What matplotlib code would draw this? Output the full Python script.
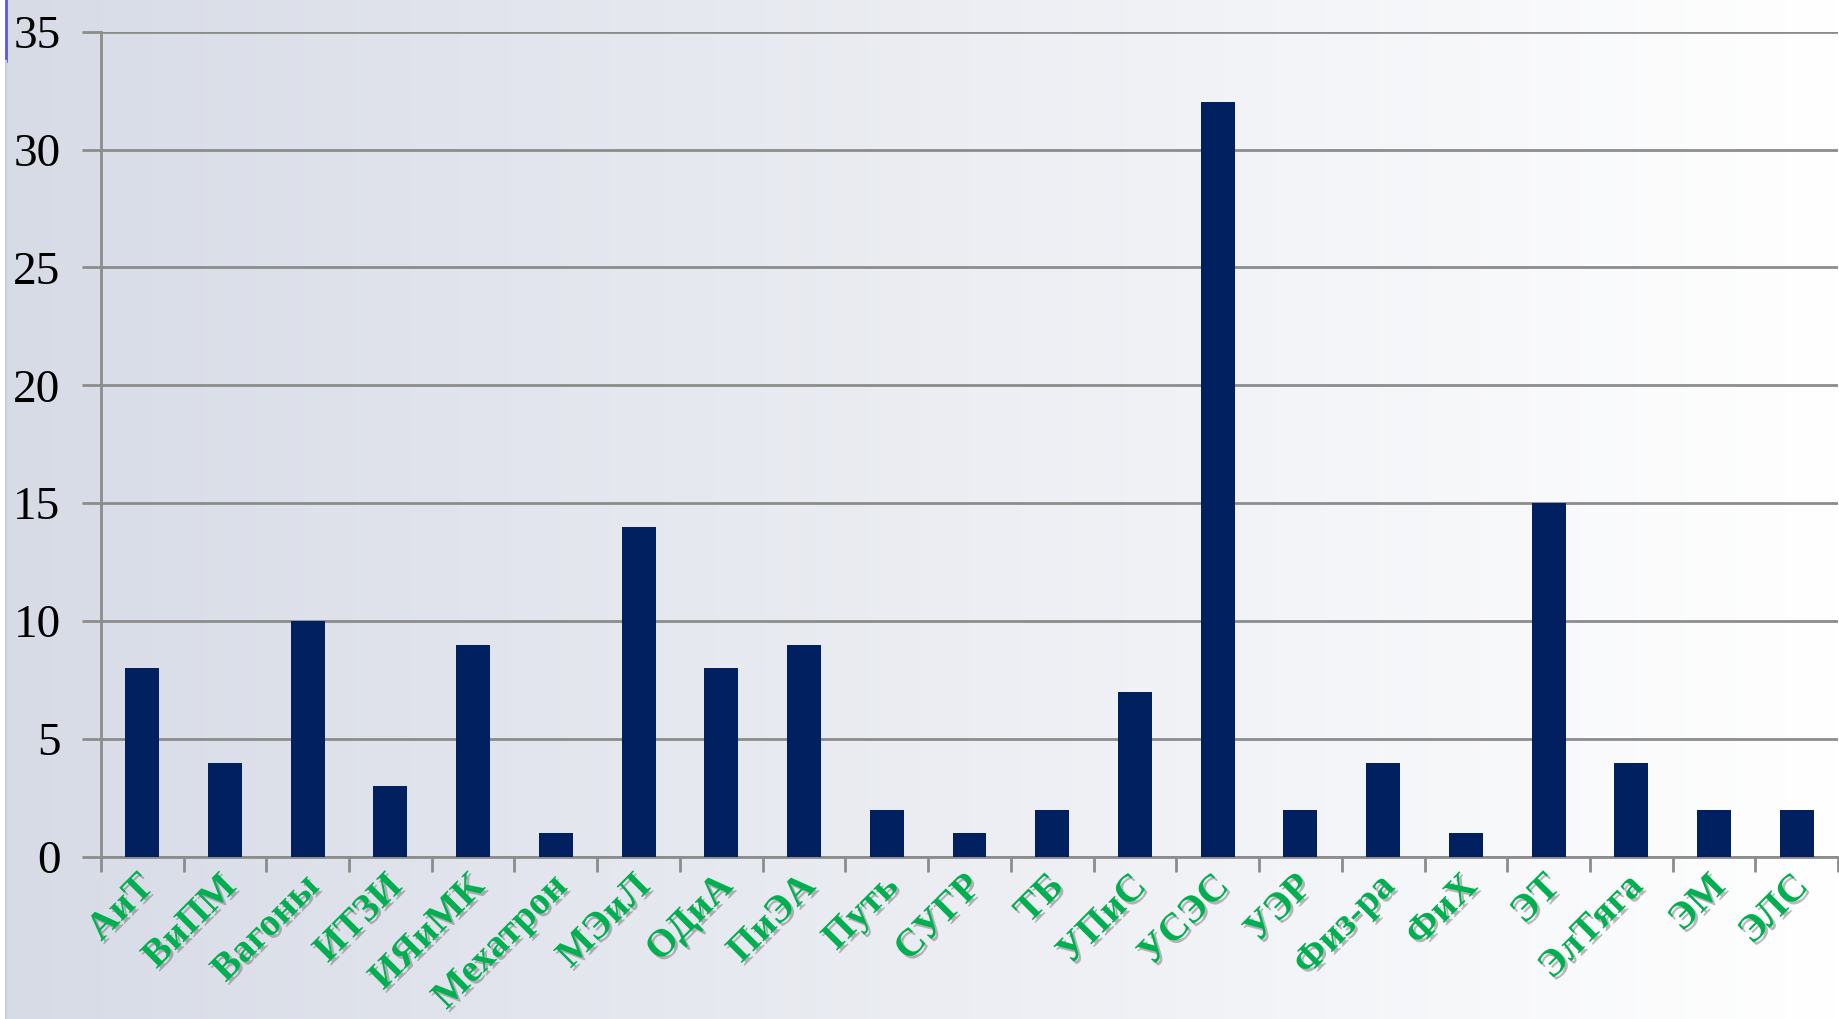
import numpy as np
import matplotlib
matplotlib.use("Agg")
import matplotlib.pyplot as plt
import matplotlib.patheffects as pe
from matplotlib.ticker import FixedLocator

categories = ["АиТ", "ВиПМ", "Вагоны", "ИТЗИ", "ИЯиМК", "Мехатрон", "МЭиЛ",
              "ОДиА", "ПиЭА", "Путь", "СУГР", "ТБ", "УПиС", "УСЭС", "УЭР",
              "Физ-ра", "ФиХ", "ЭТ", "ЭлТяга", "ЭМ", "ЭЛС"]
values = [8, 4, 10, 3, 9, 1, 14, 8, 9, 2, 1, 2, 7, 32, 2, 4, 1, 15, 4, 2, 2]
y_ticks = [0, 5, 10, 15, 20, 25, 30, 35]

fig = plt.figure(figsize=(18.4, 10.19), dpi=100)

# background gradient, grey-blue on the left to white on the right
bg = fig.add_axes([0, 0, 1, 1], zorder=-10)
grad = np.linspace(0, 1, 512)[None, :]
c0 = np.array([0.843, 0.859, 0.902])
c1 = np.array([1.0, 1.0, 1.0])
img = c0[None, None, :] * (1 - grad[..., None]) + c1[None, None, :] * grad[..., None]
bg.imshow(img, aspect="auto", extent=[0, 1, 0, 1])
bg.axvspan(0, 0.0025, color="white")
bg.plot([0.003, 0.003], [0.94, 1.0], color="#5a5ad8", lw=2)
bg.plot([0.003, 0.003], [0.0, 0.94], color="#c9ccdb", lw=1.5)
bg.set_xlim(0, 1)
bg.set_ylim(0, 1)
bg.axis("off")

ax = fig.add_axes([0.0548, 0.159, 0.9442, 0.810])
ax.patch.set_alpha(0)
x = np.arange(len(categories))
ax.bar(x, values, width=0.41, color="#002060", zorder=3)

ax.set_xlim(-0.5, len(categories) - 0.5)
ax.set_ylim(0, 35)
ax.set_yticks(y_ticks)
ax.yaxis.grid(True, color="#8c8c8c", lw=2)
ax.set_axisbelow(True)

for s in ["top", "right"]:
    ax.spines[s].set_visible(False)
for s in ["left", "bottom"]:
    ax.spines[s].set_color("#8c8c8c")
    ax.spines[s].set_linewidth(2)

ax.tick_params(axis="y", length=14, width=2, color="#8c8c8c", pad=15)
for lab in ax.get_yticklabels():
    lab.set_fontfamily("Liberation Serif")
    lab.set_fontsize(34)
    lab.set_color("black")

ax.set_xticks(x)
ax.xaxis.set_minor_locator(FixedLocator(np.arange(len(categories) + 1) - 0.5))
ax.tick_params(axis="x", which="major", length=0)
ax.tick_params(axis="x", which="minor", length=11, width=2, color="#8c8c8c")
ax.set_xticklabels([])

shadow = [pe.SimplePatchShadow(offset=(2, -2), shadow_rgbFace="#666666", alpha=0.45),
          pe.Normal()]
for i, name in enumerate(categories):
    ax.annotate(name, xy=(i, 0), xycoords=("data", "axes fraction"),
                xytext=(-5, -8), textcoords="offset points",
                rotation=45, ha="right", va="top", rotation_mode="anchor",
                fontfamily="Liberation Serif", fontweight="bold",
                fontsize=28, color="#00b050", path_effects=shadow)

fig.savefig("out.png", dpi=100)
